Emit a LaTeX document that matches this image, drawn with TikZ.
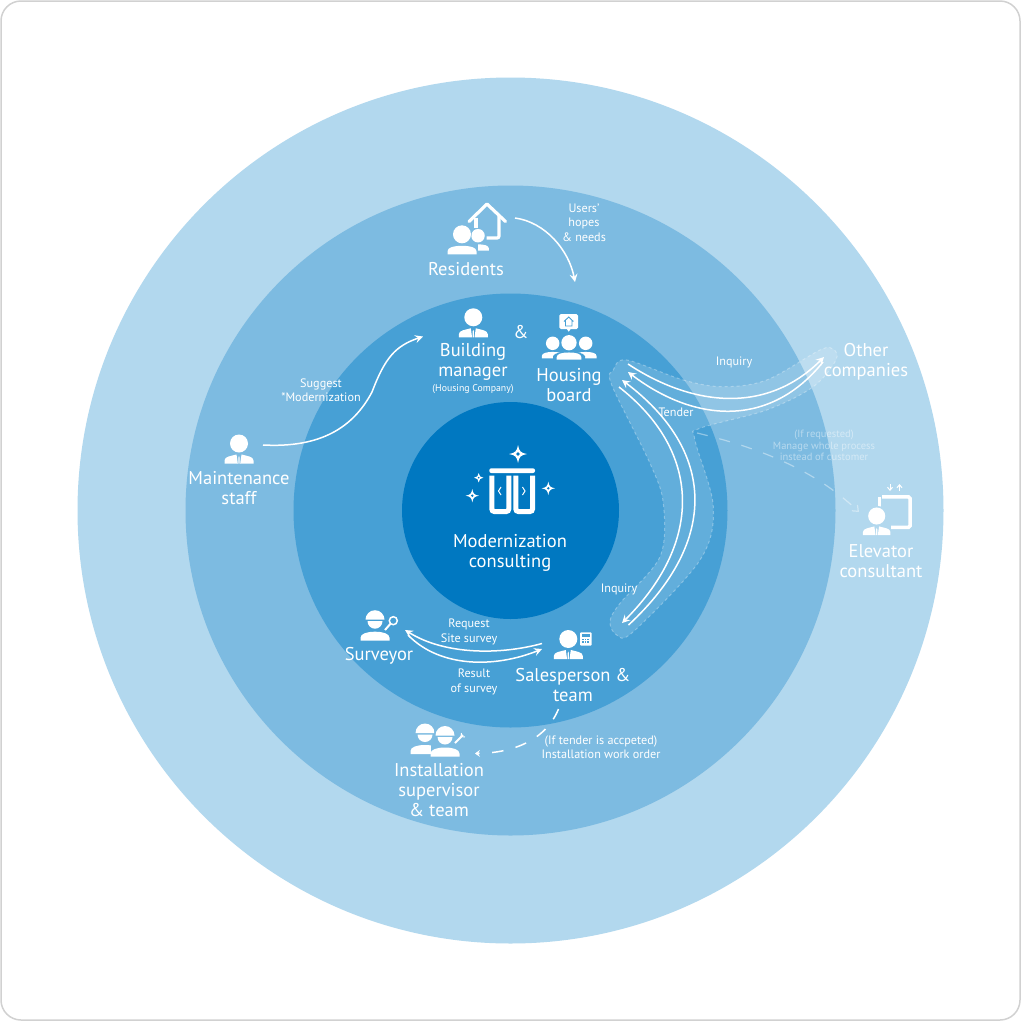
\documentclass[tikz,border=0pt]{standalone}
\usepackage{fontspec}
\setmainfont{PT Sans}
\usetikzlibrary{arrows.meta}
\definecolor{ringa}{HTML}{B2D8EE}
\definecolor{ringb}{HTML}{7DBBE1}
\definecolor{ringc}{HTML}{47A0D5}
\definecolor{ringd}{HTML}{0078C1}
\tikzset{
    biglabel/.style={text=white,align=center,font=\fontsize{18.5}{20}\selectfont,inner sep=0pt},
    smalllabel/.style={text=white,align=center,font=\fontsize{12.2}{14.5}\selectfont,inner sep=0pt},
    faintlabel/.style={smalllabel,font=\fontsize{10.5}{11.5}\selectfont,text opacity=.45},
    flow/.style={white,line width=1.5pt,-{Stealth[length=8pt,width=8pt,inset=3pt]}},
    % person with a tie, origin at the head
    manpic/.pic={
        \fill[white] (0,0) circle (9);
        \fill[white] (-14.5,20) -- (-14.5,17) .. controls (-14.5,13) and (-8,12.5) .. (-2.5,11) -- (-1.2,20) -- cycle;
        \fill[white] (14.5,20) -- (14.5,17) .. controls (14.5,13) and (8,12.5) .. (2.5,11) -- (1.2,20) -- cycle;
        \fill[white] (-.6,20) -- (-.6,14) -- (0,12.5) -- (.6,14) -- (.6,20) -- cycle;
    },
    plainpic/.pic={
        \fill[white] (0,0) circle (9);
        \fill[white] (-14.5,20) -- (-14.5,17) .. controls (-14.5,13) and (-8,11.5) .. (0,11.5) .. controls (8,11.5) and (14.5,13) .. (14.5,17) -- (14.5,20) -- cycle;
    },
    workerpic/.pic={
        \fill[white] (-9.5,-1) arc (180:360:9.5) -- cycle;
        \fill[white] (-7.5,.5) -- (7.5,.5) arc (0:180:7.5) -- cycle;
        \fill[white] (-14.5,20) -- (-14.5,17) .. controls (-14.5,13) and (-8,11) .. (0,11) .. controls (8,11) and (14.5,13) .. (14.5,17) -- (14.5,20) -- cycle;
    },
    sparklepic/.pic={
        \fill[white] (0,-1) .. controls (.12,-.3) and (.3,-.12) .. (1,0) .. controls (.3,.12) and (.12,.3) .. (0,1)
            .. controls (-.12,.3) and (-.3,.12) .. (-1,0) .. controls (-.3,-.12) and (-.12,-.3) .. (0,-1) -- cycle;
        \fill[ringd] (0,0) circle (.2);
    },
}
\begin{document}
\begin{tikzpicture}[x=1pt,y=-1pt]
    \useasboundingbox (0,0) rectangle (1021,1021);
    \fill[white] (0,0) rectangle (1021,1021);
    \draw[black!18,line width=1.5pt,rounded corners=20pt] (1,1) rectangle (1020,1020);
    \foreach \ringr/\ringcol in {433/ringa,325/ringb,217/ringc,108.5/ringd}
        \fill[\ringcol] (510.5,510.5) circle (\ringr);

    % shaded band under the tender arrows
    \draw[fill=white,fill opacity=.15,draw opacity=.3,draw=white,line width=1pt,dashed]
        plot[smooth cycle,tension=.55] coordinates {(626.7,360) (683.3,380) (723.3,386.7) (766.7,380) (820,350) (833.3,349.3) (836,360)
            (813.3,386.7) (766.7,410) (700,428.3) (695,440) (713.3,506.7) (700,560) (633.3,631.7) (616.7,635) (610,621.7) (620,603.3)
            (660,556.7) (663.3,503.3) (650,463.3) (611.7,385) (613.3,370)};

    % centre
    \fill[white,rounded corners=2pt] (489.3,473) -- (489.3,468.3) -- (535,468.3) -- (535,473) -- cycle;
    \draw[white,line width=5pt,rounded corners=2.5pt] (491.8,475.7) -- (491.8,511.5) -- (508.8,511.5) -- (508.8,475.7);
    \draw[white,line width=5pt,rounded corners=2.5pt] (515.8,475.7) -- (515.8,511.5) -- (532.5,511.5) -- (532.5,475.7);
    \draw[white,line width=1pt] (501,487) -- (498.5,491) -- (501,495);
    \draw[white,line width=1pt] (522.5,487) -- (525,491) -- (522.5,495);
    \foreach \sx/\sy/\ss in {518/454/9,478.7/477.7/4.7,472.3/495.7/6.7,548.3/488.3/6.7}
        \pic[scale=\ss] at (\sx,\sy) {sparklepic};
    \node[biglabel] (centrelabel) at (510,553) {Modernization\\consulting};

    % residents
    \draw[white,line width=3.2pt,line cap=round,line join=round] (469,221.5) -- (487,204) -- (505.5,221.5);
    \draw[white,line width=3.2pt,rounded corners=2pt] (499,216) -- (499,238) -- (486.5,238);
    \draw[white,line width=3.2pt] (476,218) -- (476,228);
    \pic[scale=.75] at (478,235.7) {plainpic};
    \fill[ringb] (461.5,234.3) circle (10);
    \fill[ringb] (447,254.3) rectangle (478,243.5);
    \pic at (462,234.3) {plainpic};
    \node[biglabel] (residents) at (466,269) {Residents};
    \node[smalllabel] (hopes) at (584,222.5) {Users'\\hopes\\\& needs};
    \coordinate (residentsout) at (515,218);
    \coordinate (boardin) at (575,282);
    \draw[flow] (residentsout) .. controls (545,222) and (569,250) .. (boardin);

    % maintenance staff
    \pic at (239,443.5) {manpic};
    \node[biglabel] (maintenance) at (239,488) {Maintenance\\staff};
    \node[smalllabel] (suggest) at (321,390) {Suggest\\*Modernization};
    \coordinate (maintout) at (263,445);
    \coordinate (managerin) at (423,336.5);
    \coordinate (suggestmid) at (372,392);
    \draw[flow] (maintout) .. controls (320,448) and (353,428) .. (suggestmid) .. controls (385,358) and (395,346) .. (managerin);

    % manager and board
    \pic at (473.3,317.3) {manpic};
    \node[biglabel] (manager) at (473,362) {Building\\manager};
    \node[smalllabel,font=\fontsize{9.8}{11}\selectfont] (company) at (473,389) {(Housing Company)};
    \node[biglabel] (andsign) at (521,332) {\&};
    \pic[scale=.75] at (552.7,343.3) {plainpic};
    \pic[scale=.75] at (585.7,343.3) {plainpic};
    \fill[ringc] (569,342.7) circle (8.5);
    \fill[ringc] (553,359.5) -- (553,356) .. controls (556,350) and (582,350) .. (585,356) -- (585,359.5) -- cycle;
    \pic[scale=.85] at (569,342.7) {plainpic};
    \fill[white,rounded corners=1.5pt] (559.3,314) rectangle (578,329);
    \fill[white] (566.5,328.5) -- (571,328.5) -- (568.7,331.7) -- cycle;
    \draw[ringc,line width=.9pt] (564,321.5) -- (568.7,317) -- (573.4,321.5) (565.5,320.5) -- (565.5,326) -- (572,326) -- (572,320.5);
    \node[biglabel] (board) at (569,385) {Housing\\board};

    % other companies
    \node[biglabel] (companies) at (866,362) {Other\\companies};
    \node[smalllabel] (inquirytop) at (734,362) {Inquiry};
    \node[smalllabel] (tender) at (676,412) {Tender};
    \node[smalllabel] (inquirylow) at (619,589) {Inquiry};
    \coordinate (boardouta) at (628,364);
    \coordinate (boardinb) at (628,372);
    \coordinate (companyina) at (824,357);
    \coordinate (companyoutb) at (823,362);
    \draw[flow] (boardouta) .. controls (690,405) and (765,416) .. (companyina);
    \draw[flow] (companyoutb) .. controls (770,428) and (695,423) .. (boardinb);
    \coordinate (boardina) at (622,380);
    \coordinate (boardoutb) at (619,387);
    \coordinate (salesouta) at (628.5,625);
    \coordinate (salesinb) at (622,623);
    \draw[flow] (salesouta) .. controls (720,540) and (715,450) .. (boardina);
    \draw[flow] (boardoutb) .. controls (700,450) and (705,540) .. (salesinb);

    % elevator consultant
    \draw[white,line width=3.5pt,rounded corners=1.5pt] (882,496.8) -- (910,496.8) -- (910,527.3) -- (891,527.3);
    \draw[white,line width=3.5pt] (879.5,497) -- (879.5,510);
    \draw[white,line width=1pt,-{Straight Barb[length=3pt,width=5pt]}] (890,484) -- (890,491);
    \draw[white,line width=1pt,-{Straight Barb[length=3pt,width=5pt]}] (899.5,491) -- (899.5,484);
    \fill[ringa] (876.7,515.7) circle (10);
    \pic[scale=.95] at (876.7,516) {manpic};
    \node[biglabel] (consultant) at (881,561) {Elevator\\consultant};
    \node[faintlabel] (requested) at (824,445.5) {(If requested)\\Manage whole process\\instead of customer};
    \coordinate (bandout) at (697,433);
    \coordinate (consultantin) at (859,512);
    \draw[white,opacity=.4,line width=1.2pt,dash pattern=on 11pt off 12pt,-{Straight Barb[length=5pt,width=8pt]}] (bandout) .. controls (760,448) and (815,470) .. (consultantin);

    % surveyor
    \pic at (375,620.7) {workerpic};
    \draw[white,line width=1.5pt] (393.3,620.7) circle (4);
    \draw[white,line width=2pt] (390.5,623.7) -- (385,630);
    \node[biglabel] (surveyor) at (379,656) {Surveyor};
    \node[smalllabel] (request) at (469,632) {Request\\Site survey};
    \node[smalllabel] (result) at (474,682) {Result\\of survey};

    % salesperson
    \pic at (568.3,639) {manpic};
    \fill[white,rounded corners=1pt] (580,632.3) rectangle (591.7,645.7);
    \fill[ringc] (581.8,634.2) rectangle (589.9,636.8);
    \foreach \kx in {582,584.7,587.4}
        \foreach \ky in {638.5,641.3}
            \fill[ringc] (\kx,\ky) rectangle (\kx+1.6,\ky+1.6);
    \node[biglabel] (sales) at (573,685) {Salesperson \&\\team};
    \coordinate (salesoutc) at (542,643.5);
    \coordinate (surveyorin) at (405,630);
    \coordinate (surveyorout) at (408,635);
    \coordinate (salesinc) at (542,649);
    \draw[flow] (salesoutc) .. controls (500,655) and (445,655) .. (surveyorin);
    \draw[flow] (surveyorout) .. controls (440,668) and (495,668) .. (salesinc);

    % installation
    \pic at (425,734) {workerpic};
    \fill[ringb] (431,743) rectangle (445,757);
    \fill[ringb] (445,734) circle (11);
    \pic at (445,736.5) {workerpic};
    \draw[white,line width=2pt] (455,743) -- (463,735);
    \draw[white,line width=1pt] (461.5,733) -- (461,736.5) -- (465,737);
    \node[biglabel] (install) at (439,790) {Installation\\supervisor\\\& team};
    \node[smalllabel] (workorder) at (601,747) {(If tender is accpeted)\\Installation work order};
    \coordinate (salesoutd) at (558.5,709);
    \coordinate (installin) at (475,753.5);
    \draw[white,line width=1.5pt,dash pattern=on 11.5pt off 12.5pt,-{Stealth[length=5pt,width=7pt,inset=2pt]}] (salesoutd) .. controls (545,742) and (510,753) .. (installin);
\end{tikzpicture}
\end{document}
